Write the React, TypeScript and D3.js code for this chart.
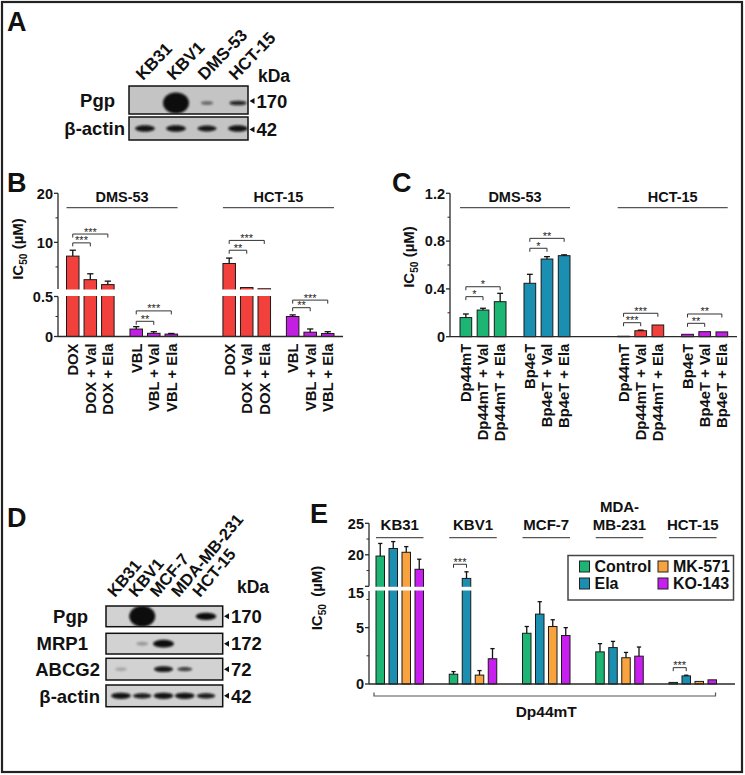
import React from "react";
import * as d3 from "d3";

const FONT = "'Liberation Sans', Arial, Helvetica, sans-serif";
const INK = "#111";
const AX = "#2a2a2a";

const RED = "#f2403c";
const PURPLE = "#c21fe3";
const GREEN = "#1cb574";
const TEAL = "#1a8fb2";
const ORANGE = "#f8a33e";
const PURPLE_E = "#c81ef0";

// ---------------- Panel A (western blot)
const aLanes = ["KB31", "KBV1", "DMS-53", "HCT-15"];
const aRows = ["Pgp", "β-actin"];
const aKDa = ["170", "42"];
const aPgp = [0, 1, 0.3, 0.72];
const aActin = [0.82, 0.82, 0.8, 0.82];

// ---------------- Panel B
const bCells = ["DMS-53", "HCT-15"];
const bDrugs = ["DOX", "VBL"];
const bTreatments = ["", " + Val", " + Ela"];
const bDmsMean = [7.2, 2.4, 1.4, 0.093, 0.04, 0.03];
const bDmsErr = [1.2, 1.2, 0.7, 0.03, 0.02, 0.008];
const bHctMean = [5.7, 0.8, 0.55, 0.25, 0.054, 0.037];
const bHctErr = [1.1, 0.06, 0.02, 0.02, 0.04, 0.023];
const bUpperMajor = [10, 20];
const bUpperMinor = [5, 15];
const bLowerMajor = [0, 0.5];
const bLowerMinor = [0.25];
// [cell, fromBar, toBar, y value, label]
const bSig: [number, number, number, number, string][] = [
  [0, 0, 1, 9.9, "***"],
  [0, 0, 2, 11.7, "***"],
  [0, 3, 4, 0.19, "**"],
  [0, 3, 5, 0.32, "***"],
  [1, 0, 1, 8.4, "**"],
  [1, 0, 2, 10.4, "***"],
  [1, 3, 4, 0.36, "**"],
  [1, 3, 5, 0.455, "***"],
];

// ---------------- Panel C
const cCells = ["DMS-53", "HCT-15"];
const cDrugs = ["Dp44mT", "Bp4eT"];
const cTreatments = ["", " + Val", " + Ela"];
const cDmsMean = [0.16, 0.223, 0.293, 0.447, 0.65, 0.678];
const cDmsErr = [0.03, 0.015, 0.07, 0.075, 0.02, 0.007];
const cHctMean = [0.004, 0.05, 0.098, 0.02, 0.042, 0.04];
const cHctErr = [0.001, 0.005, 0.003, 0.004, 0.004, 0.004];
const cMajor = [0, 0.4, 0.8, 1.2];
const cMinor = [0.2, 0.6, 1.0];
const cSig: [number, number, number, number, string][] = [
  [0, 0, 1, 0.335, "*"],
  [0, 0, 2, 0.418, "*"],
  [0, 3, 4, 0.74, "*"],
  [0, 3, 5, 0.823, "**"],
  [1, 0, 1, 0.117, "***"],
  [1, 0, 2, 0.196, "***"],
  [1, 3, 4, 0.112, "**"],
  [1, 3, 5, 0.19, "**"],
];

// ---------------- Panel D (western blot)
const dLanes = ["KB31", "KBV1", "MCF-7", "MDA-MB-231", "HCT-15"];
const dRows = ["Pgp", "MRP1", "ABCG2", "β-actin"];
const dKDa = ["170", "172", "72", "42"];
const dPgp = [0, 1, 0, 0, 0.85];
const dMrp1 = [0, 0.12, 0.86, 0, 0];
const dAbcg2 = [0.05, 0, 0.8, 0.6, 0];
const dActin = [0.82, 0.78, 0.82, 0.82, 0.78];

// ---------------- Panel E
const eCells = ["KB31", "KBV1", "MCF-7", "MDA-MB-231", "HCT-15"];
const eCellLabels = [["KB31"], ["KBV1"], ["MCF-7"], ["MDA-", "MB-231"], ["HCT-15"]];
const eSeries = ["Control", "Ela", "MK-571", "KO-143"];
const eControl = [19.8, 0.87, 4.5, 2.85, 0.14];
const eControlErr = [2.0, 0.23, 0.6, 0.73, 0.03];
const eEla = [21.0, 16.25, 6.2, 3.23, 0.72];
const eElaErr = [1.1, 1.05, 1.1, 0.55, 0.06];
const eMk571 = [20.4, 0.79, 5.1, 2.33, 0.23];
const eMk571Err = [0.9, 0.4, 0.6, 0.47, 0.04];
const eKo143 = [17.7, 2.24, 4.3, 2.47, 0.37];
const eKo143Err = [1.6, 0.9, 0.7, 0.81, 0.04];
const eUpperMajor = [15, 20, 25];
const eUpperMinor = [17.5, 22.5];
const eLowerMajor = [0, 5];
const eLowerMinor = [2.5, 7.5];
const eSig: [number, number, number, number, string][] = [
  [1, 0, 1, 18.5, "***"],
  [4, 0, 1, 1.45, "***"],
];
const eDrug = "Dp44mT";

type Seg = { scale: d3.ScaleLinear<number, number>; major: number[]; minor: number[]; shift?: Record<string, number> };

function YAxis({ x, segs, fs = 14.5 }: { x: number; segs: Seg[]; fs?: number }) {
  return (
    <g>
      {segs.map((s, i) => {
        const [r0, r1] = s.scale.range();
        return (
          <g key={i}>
            <line x1={x} x2={x} y1={r0} y2={r1} stroke={AX} strokeWidth={1.3} />
            {s.major.map((v) => (
              <g key={"M" + v}>
                <line x1={x - 4} x2={x} y1={s.scale(v)} y2={s.scale(v)} stroke={AX} strokeWidth={1.3} />
                <text x={x - 5} y={s.scale(v) + (s.shift && s.shift[String(v)] ? s.shift[String(v)] : 0)} dy="0.36em" textAnchor="end" fontSize={fs} fontWeight="bold" fill={INK}>
                  {String(v)}
                </text>
              </g>
            ))}
            {s.minor.map((v) => (
              <line key={"m" + v} x1={x - 2.5} x2={x} y1={s.scale(v)} y2={s.scale(v)} stroke={AX} strokeWidth={1} />
            ))}
          </g>
        );
      })}
    </g>
  );
}

function Bracket({ x1, x2, y, label, fs = 11 }: { x1: number; x2: number; y: number; label: string; fs?: number }) {
  return (
    <g>
      <path d={`M${x1},${y + 3.5}V${y}H${x2}V${y + 3.5}`} fill="none" stroke="#333" strokeWidth={1} />
      <text x={(x1 + x2) / 2} y={y + 1.5} textAnchor="middle" fontSize={fs} fill="#222">
        {label}
      </text>
    </g>
  );
}

function IcLabel({ x, y, fs = 14, gap = 0 }: { x: number; y: number; fs?: number; gap?: number }) {
  return (
    <text transform={`translate(${x},${y}) rotate(-90)`} textAnchor="middle" dy="0.36em" fontSize={fs} fontWeight="bold" fill={INK}>
      IC
      <tspan fontSize={fs * 0.68} dy={fs * 0.25}>
        50
      </tspan>
      <tspan dy={-fs * 0.25} dx={gap}>
        {" (µM)"}
      </tspan>
    </text>
  );
}

function Bar({ x, w, y0, y, err, color }: { x: number; w: number; y0: number; y: number; err: number; color: string }) {
  return (
    <g>
      <rect x={x} y={Math.min(y, y0)} width={w} height={Math.abs(y0 - y)} fill={color} stroke="#1a1a1a" strokeWidth={1} />
      {err < y - 0.5 && (
        <g stroke="#111" strokeWidth={1.3}>
          <line x1={x + w / 2} x2={x + w / 2} y1={y} y2={err} />
          <line x1={x + w * 0.25} x2={x + w * 0.75} y1={err} y2={err} />
        </g>
      )}
    </g>
  );
}

function Blot({ x0, x1, y0, y1, lanes, vals, center, bg, id }: { x0: number; x1: number; y0: number; y1: number; lanes: number[]; vals: number[]; center: number; bg: string; id: string }) {
  return (
    <g>
      <clipPath id={id}>
        <rect x={x0} y={y0} width={x1 - x0} height={y1 - y0} />
      </clipPath>
      <rect x={x0} y={y0} width={x1 - x0} height={y1 - y0} fill={bg} />
      <g clipPath={`url(#${id})`} filter="url(#blur)">
        {vals.map((v, i) =>
          v > 0 ? (
            <ellipse key={i} cx={lanes[i]} cy={center} rx={6 + 7 * Math.pow(v, 3)} ry={2 + 8.5 * Math.pow(v, 10)} fill="#0a0a0a" opacity={Math.min(1, 0.15 + v)} />
          ) : null
        )}
      </g>
      <rect x={x0} y={y0} width={x1 - x0} height={y1 - y0} fill="none" stroke="#111" strokeWidth={1.5} />
    </g>
  );
}

function Arrow({ x, y, label, fs }: { x: number; y: number; label: string; fs: number }) {
  return (
    <g>
      <path d={`M${x},${y}L${x + 5},${y - 3}L${x + 5},${y + 3}Z`} fill={INK} />
      <text x={x + 7} y={y} dy="0.36em" fontSize={fs} fontWeight="bold" fill={INK}>
        {label}
      </text>
    </g>
  );
}

function broken(lower: d3.ScaleLinear<number, number>, upper: d3.ScaleLinear<number, number>) {
  const lmax = lower.domain()[1];
  return (v: number) => (v <= lmax ? lower(v) : upper(v));
}

function PanelA() {
  const lane = d3.scalePoint<string>().domain(aLanes).range([145, 238]);
  const lx = aLanes.map((l) => lane(l) as number);
  const boxes = [
    [86, 114, 103],
    [117, 140, 128.5],
  ];
  const vals = [aPgp, aActin];
  const labelX = [115, 125];
  return (
    <g>
      <text x={7} y={31} fontSize={27} fontWeight="bold" fill={INK}>A</text>
      {aLanes.map((l, i) => (
        <text key={l} transform={`translate(${lx[i] - 2},${81}) rotate(-46)`} fontSize={17} fontWeight="bold" fill={INK}>{l}</text>
      ))}
      <text x={258} y={82} fontSize={17.5} fontWeight="bold" fill={INK}>kDa</text>
      {aRows.map((r, i) => (
        <g key={r}>
          <Blot id={"a" + i} x0={129} x1={248} y0={boxes[i][0]} y1={boxes[i][1]} center={boxes[i][2]} lanes={lx} vals={vals[i]} bg="#c4c4c4" />
          <text x={labelX[i]} y={(boxes[i][0] + boxes[i][1]) / 2} dy="0.36em" textAnchor="end" fontSize={18.5} fontWeight="bold" fill={INK}>{r}</text>
          <Arrow x={249.5} y={(boxes[i][0] + boxes[i][1]) / 2 + 1} label={aKDa[i]} fs={18.5} />
        </g>
      ))}
    </g>
  );
}

function PanelD() {
  const lane = d3.scalePoint<string>().domain(dLanes).range([121, 206]);
  const lx = dLanes.map((l) => lane(l) as number);
  const boxes = [
    [606, 626.7],
    [633.3, 654],
    [658.3, 680],
    [685, 706.7],
  ];
  const vals = [dPgp, dMrp1, dAbcg2, dActin];
  const labelX = [88, 88, 100, 100];
  return (
    <g>
      <text x={7} y={527} fontSize={27} fontWeight="bold" fill={INK}>D</text>
      {dLanes.map((l, i) => (
        <text key={l} transform={`translate(${lx[i] - 6},${598}) rotate(-50)`} fontSize={16.5} fontWeight="bold" fill={INK}>{l}</text>
      ))}
      <text x={237} y={593} fontSize={17.5} fontWeight="bold" fill={INK}>kDa</text>
      {dRows.map((r, i) => {
        const cy = (boxes[i][0] + boxes[i][1]) / 2;
        return (
          <g key={r}>
            <Blot id={"d" + i} x0={106} x1={222.7} y0={boxes[i][0]} y1={boxes[i][1]} center={cy} lanes={lx} vals={vals[i]} bg="#d2d2d2" />
            <text x={labelX[i]} y={cy} dy="0.36em" textAnchor="end" fontSize={18.5} fontWeight="bold" fill={INK}>{r}</text>
            <Arrow x={224} y={cy} label={dKDa[i]} fs={18.5} />
          </g>
        );
      })}
    </g>
  );
}

function TreatmentPanel({
  letter, letterX, axisX, axisEnd, outerRange, outerPad, midPad, innerPad, cells, drugs, treatments, means, errs, colors, ySegs, y, gap, sig, ylabX, ylabY,
}: any) {
  const outer = d3.scaleBand<string>().domain(cells).range(outerRange).paddingInner(outerPad).paddingOuter(0);
  const mid = d3.scaleBand<string>().domain(drugs).range([0, outer.bandwidth()]).paddingInner(midPad).paddingOuter(0);
  const inner = d3.scaleBand<string>().domain(treatments).range([0, mid.bandwidth()]).paddingInner(innerPad).paddingOuter(0);
  const bw = inner.bandwidth();
  const y0 = y(0);
  const barX = (c: number, i: number) =>
    (outer(cells[c]) as number) + (mid(drugs[Math.floor(i / 3)]) as number) + (inner(treatments[i % 3]) as number);
  return (
    <g>
      <text x={letterX} y={192} fontSize={27} fontWeight="bold" fill={INK}>{letter}</text>
      <IcLabel x={ylabX} y={ylabY} fs={15} />
      {cells.map((c: string, ci: number) => {
        const ox = outer(c) as number;
        return (
          <g key={c}>
            <text x={ox + outer.bandwidth() / 2} y={201.7} textAnchor="middle" fontSize={14.5} fontWeight="bold" fill={INK}>{c}</text>
            <line x1={ox} x2={ox + outer.bandwidth()} y1={207.7} y2={207.7} stroke="#555" strokeWidth={1.2} />
            {means[ci].map((m: number, i: number) => {
              const bx = barX(ci, i);
              const hasGap = gap && m > gap[2];
              return (
                <g key={i}>
                  <Bar x={bx} w={bw} y0={y0} y={y(m)} err={y(m + errs[ci][i])} color={colors[ci][Math.floor(i / 3)]} />
                  {hasGap && <rect x={bx - 2} y={gap[0]} width={bw + 4} height={gap[1] - gap[0]} fill="#fff" />}
                  <text transform={`translate(${bx + bw / 2},${y0 + 7}) rotate(-90)`} textAnchor="end" dy="0.36em" fontSize={14.8} fontWeight="bold" fill={INK}>
                    {drugs[Math.floor(i / 3)] + treatments[i % 3]}
                  </text>
                </g>
              );
            })}
          </g>
        );
      })}
      {sig.map((s: any, k: number) => (
        <Bracket key={k} x1={barX(s[0], s[1]) + bw / 2} x2={barX(s[0], s[2]) + bw / 2} y={y(s[3])} label={s[4]} />
      ))}
      <YAxis x={axisX} segs={ySegs} />
      <line x1={axisX} x2={axisEnd} y1={y0} y2={y0} stroke={AX} strokeWidth={1.3} />
    </g>
  );
}

function PanelB() {
  const lower = d3.scaleLinear().domain([0, 0.5]).range([336.5, 296.5]);
  const upper = d3.scaleLinear().domain([0.5, 20]).range([289, 193.3]);
  const y = broken(lower, upper);
  return (
    <TreatmentPanel
      letter="B" letterX={7} axisX={58} axisEnd={343}
      outerRange={[66.5, 334]} outerPad={0.29} midPad={0.25} innerPad={0.286}
      cells={bCells} drugs={bDrugs} treatments={bTreatments}
      means={[bDmsMean, bHctMean]} errs={[bDmsErr, bHctErr]}
      colors={[[RED, PURPLE], [RED, PURPLE]]}
      ySegs={[
        { scale: lower, major: bLowerMajor, minor: bLowerMinor },
        { scale: upper, major: bUpperMajor, minor: bUpperMinor },
      ]}
      y={y} gap={[289.5, 296, 0.5]} sig={bSig} ylabX={18} ylabY={249}
    />
  );
}

function PanelC() {
  const y = d3.scaleLinear().domain([0, 1.2]).range([336.7, 193.3]);
  return (
    <TreatmentPanel
      letter="C" letterX={392} axisX={450} axisEnd={737}
      outerRange={[460, 727.7]} outerPad={0.3025} midPad={0.281} innerPad={0.318}
      cells={cCells} drugs={cDrugs} treatments={cTreatments}
      means={[cDmsMean, cHctMean]} errs={[cDmsErr, cHctErr]}
      colors={[[GREEN, TEAL], [RED, PURPLE]]}
      ySegs={[{ scale: y, major: cMajor, minor: cMinor }]}
      y={(v: number) => y(v)} gap={null} sig={cSig} ylabX={409} ylabY={257}
    />
  );
}

function PanelE() {
  const lower = d3.scaleLinear().domain([0, 8.25]).range([684, 591]);
  const upper = d3.scaleLinear().domain([15, 25]).range([586.3, 523.3]);
  const y = broken(lower, upper);
  const outer = d3.scaleBand<string>().domain(eCells).range([376, 716.5]).paddingInner(0.3515).paddingOuter(0);
  const inner = d3.scaleBand<string>().domain(eSeries).range([0, outer.bandwidth()]).paddingInner(0.346).paddingOuter(0);
  const bw = inner.bandwidth();
  const colors = [GREEN, TEAL, ORANGE, PURPLE_E];
  const means = [eControl, eEla, eMk571, eKo143];
  const errs = [eControlErr, eElaErr, eMk571Err, eKo143Err];
  const y0 = y(0);
  const axisX = 369;
  const bx = (c: number, s: number) => (outer(eCells[c]) as number) + (inner(eSeries[s]) as number);
  const [ox0, ox1] = outer.range();
  return (
    <g>
      <text x={310} y={523} fontSize={27} fontWeight="bold" fill={INK}>E</text>
      <IcLabel x={317} y={598} fs={15} gap={3} />
      {eCells.map((c, ci) => {
        const ox = outer(c) as number;
        const lines = eCellLabels[ci];
        return (
          <g key={c}>
            {lines.map((t, li) => (
              <text key={li} x={ox + outer.bandwidth() / 2} y={530 - (lines.length - 1 - li) * 18} textAnchor="middle" fontSize={15} fontWeight="bold" fill={INK}>{t}</text>
            ))}
            <line x1={ox} x2={ox + outer.bandwidth()} y1={537.7} y2={537.7} stroke="#555" strokeWidth={1.2} />
            {eSeries.map((s, si) => {
              const m = means[si][ci];
              const x = bx(ci, si);
              return (
                <g key={s}>
                  <Bar x={x} w={bw} y0={y0} y={y(m)} err={y(m + errs[si][ci])} color={colors[si]} />
                  {m > 8.25 && <rect x={x - 2} y={586.8} width={bw + 4} height={3.7} fill="#fff" />}
                </g>
              );
            })}
          </g>
        );
      })}
      {eSig.map((s, k) => (
        <Bracket key={k} x1={bx(s[0], s[1]) + bw / 2} x2={bx(s[0], s[2]) + bw / 2} y={y(s[3])} label={s[4]} />
      ))}
      <YAxis
        x={axisX}
        segs={[
          { scale: lower, major: eLowerMajor, minor: eLowerMinor },
          { scale: upper, major: eUpperMajor, minor: eUpperMinor, shift: { "15": 6 } },
        ]}
      />
      <line x1={axisX} x2={735} y1={y0} y2={y0} stroke={AX} strokeWidth={1.3} />
      <path d={`M${ox0 - 2},${692.5}V${696}H${ox1 - 1}V${692.5}`} fill="none" stroke="#555" strokeWidth={1.2} />
      <text x={(ox0 + ox1) / 2} y={717} textAnchor="middle" fontSize={15.5} fontWeight="bold" fill={INK}>{eDrug}</text>
      <g>
        <rect x={568} y={555.5} width={165.5} height={44.5} fill="#fff" stroke="#444" strokeWidth={1.5} />
        {eSeries.map((s, i) => {
          const c2 = i === 0 || i === 1 ? 0 : 1;
          const row = i % 2;
          const lx = c2 === 0 ? 579.5 : 658;
          const ly = row === 0 ? 566.5 : 583.5;
          return (
            <g key={s}>
              <rect x={lx} y={ly - 5.5} width={10} height={11} fill={colors[i]} stroke="#222" strokeWidth={1} />
              <text x={lx + 15} y={ly} dy="0.36em" fontSize={16} fontWeight="bold" fill={INK}>{s}</text>
            </g>
          );
        })}
      </g>
    </g>
  );
}

export default function App() {
  return (
    <svg
      width={745}
      height={775}
      viewBox="0 0 745 775"
      style={{ position: "absolute", left: 0, top: 0, background: "#fff", fontFamily: FONT }}
      fontFamily={FONT}
    >
      <defs>
        <filter id="blur" x="-50%" y="-50%" width="200%" height="200%">
          <feGaussianBlur stdDeviation={1.3} />
        </filter>
      </defs>
      <rect x={0} y={0} width={745} height={775} fill="#fff" />
      <rect x={2} y={2} width={740} height={770} fill="none" stroke="#222" strokeWidth={2.2} />
      <PanelA />
      <PanelB />
      <PanelC />
      <PanelD />
      <PanelE />
    </svg>
  );
}
